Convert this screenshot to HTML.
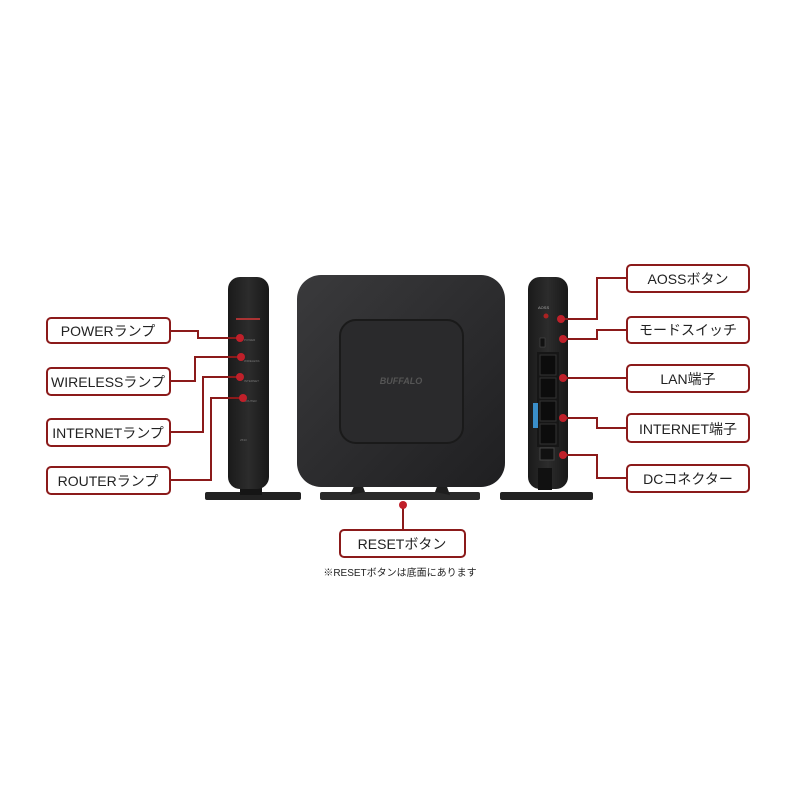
<!DOCTYPE html>
<html><head><meta charset="utf-8"><style>
html,body{margin:0;padding:0;background:#fff;}
svg text{font-family:"Liberation Sans","Noto Sans CJK JP",sans-serif;}
</style></head><body>
<svg width="800" height="800" viewBox="0 0 800 800" xmlns="http://www.w3.org/2000/svg">
<defs>
<linearGradient id="g1" x1="0" y1="0" x2="1" y2="1"><stop offset="0" stop-color="#3a3a3c"/><stop offset="1" stop-color="#1f1f21"/></linearGradient>
<linearGradient id="g2" x1="0" y1="0" x2="1" y2="0"><stop offset="0" stop-color="#1a1a1a"/><stop offset="0.5" stop-color="#2c2c2c"/><stop offset="1" stop-color="#181818"/></linearGradient>
</defs>
<!-- left router -->
<rect x="205" y="492" width="96" height="8" rx="2" fill="#222"/>
<rect x="240" y="485" width="22" height="10" fill="#151515"/>
<rect x="228" y="277" width="41" height="212" rx="12" fill="url(#g2)"/>
<rect x="236" y="318" width="24" height="2" fill="#a33"/>
<g fill="#777" font-size="3"><text x="244" y="341">POWER</text><text x="244" y="362">WIRELESS</text><text x="244" y="382">INTERNET</text><text x="244" y="402">ROUTER</text><text x="240" y="441">2533</text></g>
<!-- center router -->
<rect x="320" y="492" width="160" height="8" rx="2" fill="#2a2a2a"/>
<path d="M350 495 L355 484 L362 484 L365 492 Z M435 492 L438 484 L446 484 L450 495 Z" fill="#1e1e1e"/>
<rect x="297" y="275" width="208" height="212" rx="24" fill="url(#g1)"/>
<rect x="340" y="320" width="123" height="123" rx="16" fill="#2a2a2c" stroke="#1a1a1a" stroke-width="2"/>
<text x="401" y="384" font-size="9" font-style="italic" font-weight="bold" fill="#555" text-anchor="middle">BUFFALO</text>
<!-- right router -->
<rect x="500" y="492" width="93" height="8" rx="2" fill="#222"/>
<rect x="528" y="277" width="40" height="212" rx="12" fill="url(#g2)"/>
<text x="538" y="309" font-size="4" fill="#aaa">AOSS</text>
<circle cx="546" cy="316" r="2.5" fill="#a22"/>
<rect x="540" y="338" width="5" height="9" fill="#111" stroke="#555" stroke-width="0.5"/>
<rect x="537" y="352" width="22" height="95" fill="#161616"/>
<g fill="#0c0c0c" stroke="#333" stroke-width="1"><rect x="540" y="355" width="16" height="20"/><rect x="540" y="378" width="16" height="20"/><rect x="540" y="401" width="16" height="20"/><rect x="540" y="424" width="16" height="20"/></g>
<rect x="533" y="403" width="5" height="25" fill="#3a8ec9"/>
<rect x="540" y="448" width="14" height="12" fill="#111" stroke="#444"/>
<rect x="538" y="468" width="14" height="22" fill="#111"/>
<!-- connectors -->
<g stroke="#8b1a1a" stroke-width="2" fill="none">
<polyline points="170,331 198,331 198,338 240,338"/>
<polyline points="170,381 195,381 195,357 241,357"/>
<polyline points="170,432 203,432 203,377 240,377"/>
<polyline points="170,480 211,480 211,398 243,398"/>
<polyline points="627,278 597,278 597,319 561,319"/>
<polyline points="627,330 597,330 597,339 563,339"/>
<polyline points="627,378 563,378"/>
<polyline points="627,428 597,428 597,418 563,418"/>
<polyline points="627,478 597,478 597,455 563,455"/>
<polyline points="403,505 403,530"/>
</g>
<g fill="#c0202a">
<circle cx="240" cy="338" r="4"/><circle cx="241" cy="357" r="4"/><circle cx="240" cy="377" r="4"/><circle cx="243" cy="398" r="4"/>
<circle cx="561" cy="319" r="4"/><circle cx="563" cy="339" r="4"/><circle cx="563" cy="378" r="4"/><circle cx="563" cy="418" r="4"/><circle cx="563" cy="455" r="4"/>
<circle cx="403" cy="505" r="4"/>
</g>
<!-- boxes -->
<g fill="#fff" stroke="#8b1a1a" stroke-width="2">
<rect x="47" y="318" width="123" height="25" rx="4"/>
<rect x="47" y="368" width="123" height="27" rx="4"/>
<rect x="47" y="419" width="123" height="27" rx="4"/>
<rect x="47" y="467" width="123" height="27" rx="4"/>
<rect x="627" y="265" width="122" height="27" rx="4"/>
<rect x="627" y="317" width="122" height="26" rx="4"/>
<rect x="627" y="365" width="122" height="27" rx="4"/>
<rect x="627" y="414" width="122" height="28" rx="4"/>
<rect x="627" y="465" width="122" height="27" rx="4"/>
<rect x="340" y="530" width="125" height="27" rx="4"/>
</g>
<g font-size="14" fill="#222" text-anchor="middle">
<text x="108" y="336">POWERランプ</text>
<text x="108" y="387">WIRELESSランプ</text>
<text x="108" y="438">INTERNETランプ</text>
<text x="108" y="486">ROUTERランプ</text>
<text x="688" y="284">AOSSボタン</text>
<text x="688" y="335">モードスイッチ</text>
<text x="688" y="384">LAN端子</text>
<text x="688" y="434">INTERNET端子</text>
<text x="688" y="484">DCコネクター</text>
<text x="402" y="549">RESETボタン</text>
</g>
<text x="400" y="576" font-size="10" fill="#222" text-anchor="middle">※RESETボタンは底面にあります</text>
</svg>
</body></html>
